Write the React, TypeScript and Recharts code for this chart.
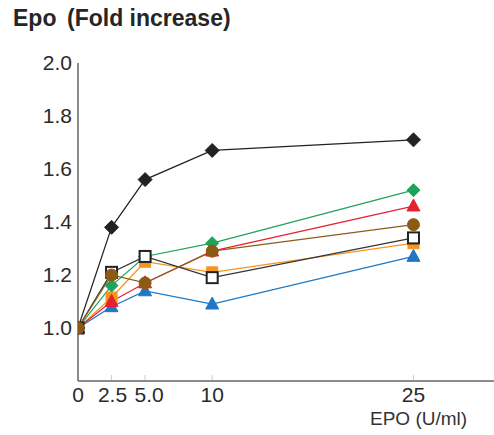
import React from 'react';
import { LineChart, Line, XAxis, YAxis } from 'recharts';

// EPO dose (U/ml) on the x axis
const DOSES = [0, 2.5, 5, 10, 25];
const X_TICKS = [0, 2.5, 5, 10, 25];
const Y_TICKS = [1.0, 1.2, 1.4, 1.6, 1.8, 2.0];

// fold increase per series
const blackDiamond = [1.0, 1.38, 1.56, 1.67, 1.71];
const greenDiamond = [1.0, 1.16, 1.27, 1.32, 1.52];
const redTriangle = [1.0, 1.1, 1.17, 1.29, 1.46];
const brownCircle = [1.0, 1.2, 1.17, 1.29, 1.39];
const openSquare = [1.0, 1.21, 1.27, 1.19, 1.34];
const orangeSquare = [1.0, 1.115, 1.25, 1.21, 1.32];
const blueTriangle = [1.0, 1.08, 1.14, 1.09, 1.27];

const FONT = '"Liberation Sans", Arial, sans-serif';

const data = DOSES.map((d, i) => ({
  dose: d,
  blackDiamond: blackDiamond[i],
  greenDiamond: greenDiamond[i],
  redTriangle: redTriangle[i],
  brownCircle: brownCircle[i],
  openSquare: openSquare[i],
  orangeSquare: orangeSquare[i],
  blueTriangle: blueTriangle[i],
}));

type Shape = 'diamond' | 'triangle' | 'circle' | 'square';

const makeDot = (shape: Shape, fill: string, stroke: string, size: number) => (p: any) => {
  const { cx, cy, index } = p;
  if (cx == null || cy == null) return <g key={index} />;
  const s = size;
  if (shape === 'diamond') {
    return (
      <polygon key={index} points={`${cx},${cy - s} ${cx + s},${cy} ${cx},${cy + s} ${cx - s},${cy}`}
        fill={fill} stroke={stroke} strokeWidth={1} />
    );
  }
  if (shape === 'triangle') {
    return (
      <polygon key={index} points={`${cx},${cy - s * 1.1} ${cx + s},${cy + s * 0.75} ${cx - s},${cy + s * 0.75}`}
        fill={fill} stroke={stroke} strokeWidth={1} />
    );
  }
  if (shape === 'circle') {
    return <circle key={index} cx={cx} cy={cy} r={s} fill={fill} stroke={stroke} strokeWidth={1} />;
  }
  return (
    <rect key={index} x={cx - s} y={cy - s} width={s * 2} height={s * 2}
      fill={fill} stroke={stroke} strokeWidth={fill === '#ffffff' ? 2 : 1} />
  );
};

const XTick = (props: any) => {
  const { x, y, payload } = props;
  const v = payload.value;
  const label = v === 5 ? '5.0' : String(v);
  const dx = v === 5 ? 4 : v === 2.5 ? 1 : 0;
  return (
    <g>
      {v !== 0 && <line x1={x} x2={x} y1={y - 7} y2={y - 12} stroke="#cccccc" strokeWidth={1} />}
      <text x={x + dx} y={y} dy="0.71em" textAnchor="middle" fontSize={21} fill="#2a2a2a" fontFamily={FONT}>
        {label}
      </text>
    </g>
  );
};

export default function App() {
  return (
    <div style={{ position: 'absolute', left: 0, top: 0, width: 494, height: 435, background: '#fff', fontFamily: FONT }}>
      <div style={{ position: 'absolute', left: 13, top: 5, fontSize: 23, fontWeight: 'bold', color: '#262626' }}>Epo</div>
      <div style={{ position: 'absolute', left: 67, top: 5, fontSize: 23, fontWeight: 'bold', color: '#262626' }}>(Fold increase)</div>
      <div style={{ position: 'absolute', left: 370, top: 408, fontSize: 19, color: '#333333' }}>EPO (U/ml)</div>
      <LineChart width={494} height={435} data={data} margin={{ top: 63, right: 0, left: 0, bottom: 14 }}>
        <XAxis
          dataKey="dose"
          type="number"
          domain={[0, 31]}
          ticks={X_TICKS}
          height={40}
          tickSize={0}
          tickMargin={6}
          tick={<XTick />}
          axisLine={{ stroke: '#666666', strokeWidth: 1.5 }}
          allowDataOverflow
        />
        <YAxis
          type="number"
          domain={[0.8, 2.0]}
          ticks={Y_TICKS}
          width={78}
          tickSize={0}
          tickMargin={6}
          tickFormatter={(v: number) => v.toFixed(1)}
          tick={{ fontSize: 21, fill: '#2a2a2a', fontFamily: FONT }}
          axisLine={{ stroke: '#666666', strokeWidth: 1.5 }}
          allowDataOverflow
        />
        <Line dataKey="blackDiamond" stroke="#222222" strokeWidth={1.2} isAnimationActive={false}
          dot={makeDot('diamond', '#222222', '#222222', 7)} />
        <Line dataKey="blueTriangle" stroke="#1f78c1" strokeWidth={1.2} isAnimationActive={false}
          dot={makeDot('triangle', '#1f78c1', '#1f78c1', 6.5)} />
        <Line dataKey="orangeSquare" stroke="#f7941d" strokeWidth={1.2} isAnimationActive={false}
          dot={makeDot('square', '#f7941d', '#f7941d', 5.5)} />
        <Line dataKey="redTriangle" stroke="#e6212f" strokeWidth={1.2} isAnimationActive={false}
          dot={makeDot('triangle', '#e6212f', '#e6212f', 6.5)} />
        <Line dataKey="greenDiamond" stroke="#1fa35a" strokeWidth={1.2} isAnimationActive={false}
          dot={makeDot('diamond', '#1fa35a', '#1fa35a', 6.5)} />
        <Line dataKey="openSquare" stroke="#333333" strokeWidth={1.2} isAnimationActive={false}
          dot={makeDot('square', '#ffffff', '#222222', 5.5)} />
        <Line dataKey="brownCircle" stroke="#8c5e1c" strokeWidth={1.2} isAnimationActive={false}
          dot={makeDot('circle', '#8c5a14', '#8c5a14', 6)} />
      </LineChart>
    </div>
  );
}
